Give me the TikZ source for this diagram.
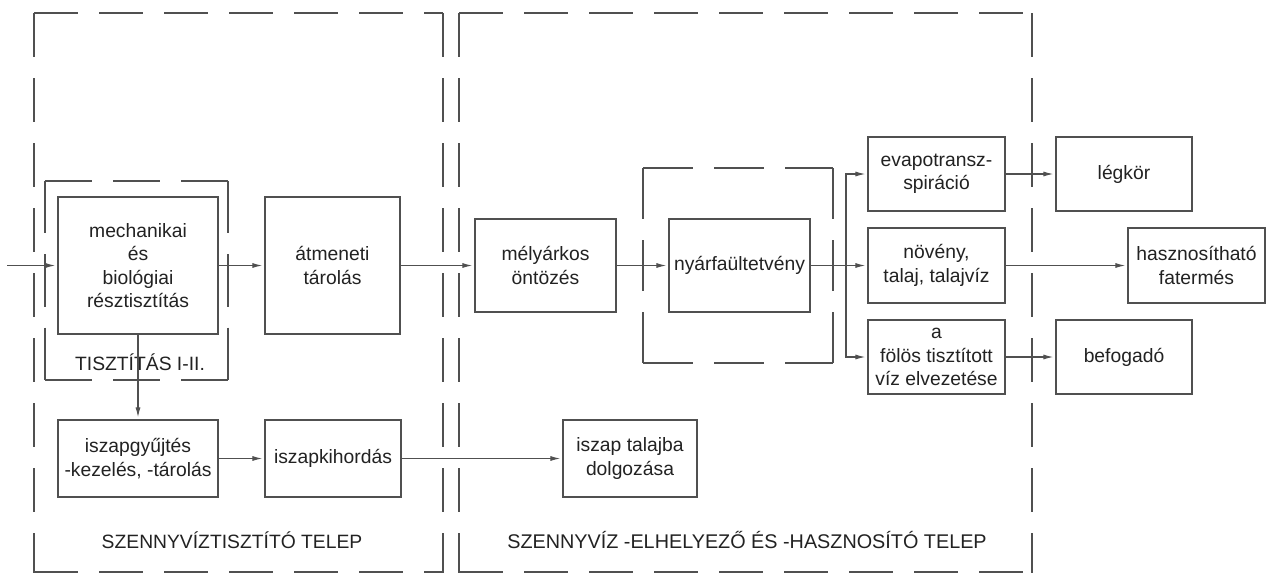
\documentclass[tikz,border=0pt]{standalone}
\usepackage{fontspec}
\setmainfont{Liberation Sans}
\usetikzlibrary{arrows.meta}
\definecolor{ln}{HTML}{505050}
\definecolor{tx}{HTML}{222222}
\begin{document}
\begin{tikzpicture}[x=1pt,y=-1pt,
  box/.style={draw=ln,line width=1.2pt,rectangle,inner sep=0pt,align=center,fill=white,
    text=tx,font=\fontsize{19.3}{23.5}\selectfont},
  lbl/.style={inner sep=0pt,text=tx,font=\fontsize{19.3}{23.5}\selectfont},
  frame/.style={draw=ln,line width=1.2pt,dash pattern=on 44pt off 21pt},
  fside/.style={draw=ln,line width=1.2pt,dash pattern=on #1 off 21pt},
  arr/.style={draw=ln,line width=1.1pt,shorten >=2pt,-{Latex[length=10pt,width=5pt]}}]
\useasboundingbox (0,0) rectangle (1266,573);
% frames
\draw[frame] (34,13) -- (443,13); \draw[frame] (34,13) -- (34,573);
\draw[frame] (443,13) -- (443,573); \draw[frame] (34,572) -- (443,572);
\draw[frame] (459,13) -- (1032,13); \draw[frame] (459,13) -- (459,573);
\draw[frame] (1032,13) -- (1032,573); \draw[frame] (459,572) -- (1032,572);
\draw[fside=47pt] (45,181) -- (228,181); \draw[fside=52.3pt] (45,181) -- (45,380);
\draw[fside=52.3pt] (228,181) -- (228,380); \draw[fside=47pt] (45,380) -- (228,380);
\draw[fside=50pt] (643,168) -- (833,168); \draw[fside=51pt] (643,168) -- (643,363);
\draw[fside=51pt] (833,168) -- (833,363); \draw[fside=50pt] (643,363) -- (833,363);
% boxes
\node[box,minimum width=160pt,minimum height=137pt] (mech) at (138,265.5) {mechanikai\\és\\biológiai\\résztisztítás};
\node[box,minimum width=135pt,minimum height=137pt] (atm) at (332.5,265.5) {átmeneti\\tárolás};
\node[box,minimum width=141pt,minimum height=93pt] (mely) at (545.5,265.5) {mélyárkos\\öntözés};
\node[box,minimum width=141pt,minimum height=93pt] (nyar) at (739.5,265.5) {nyárfaültetvény};
\node[box,minimum width=137pt,minimum height=74pt] (evapo) at (936.5,174) {evapotransz-\\spiráció};
\node[box,minimum width=137pt,minimum height=75pt] (noveny) at (936.5,265.5) {növény,\\talaj, talajvíz};
\node[box,minimum width=137pt,minimum height=74pt] (folos) at (936.5,357) {a\\fölös tisztított\\víz elvezetése};
\node[box,minimum width=136pt,minimum height=74pt] (legkor) at (1124,174) {légkör};
\node[box,minimum width=137pt,minimum height=75pt] (haszn) at (1196.5,265.5) {hasznosítható\\fatermés};
\node[box,minimum width=136pt,minimum height=74pt] (befog) at (1124,357) {befogadó};
\node[box,minimum width=160pt,minimum height=77pt] (iszgy) at (138,458.5) {iszapgyűjtés\\-kezelés, -tárolás};
\node[box,minimum width=136pt,minimum height=77pt] (iszki) at (333,458.5) {iszapkihordás};
\node[box,minimum width=134pt,minimum height=77pt] (iszta) at (630,458.5) {iszap talajba\\dolgozása};
% labels
\node[lbl] (l1) at (140,362) {TISZTÍTÁS I-II.};
\node[lbl] (l2) at (232,540) {SZENNYVÍZTISZTÍTÓ TELEP};
\node[lbl,font=\fontsize{19.8}{23.5}\selectfont] (l3) at (747,540) {SZENNYVÍZ -ELHELYEZŐ ÉS -HASZNOSÍTÓ TELEP};
% connectors
\coordinate (in) at (7,265.5);
\coordinate (split) at (846,265.5);
\draw[arr] (in) -- (mech.west);
\draw[arr] (mech.east) -- (atm.west);
\draw[arr] (atm.east) -- (mely.west);
\draw[arr] (mely.east) -- (nyar.west);
\draw[arr] (nyar.east) -- (noveny.west);
\draw[arr] (split) |- (evapo.west);
\draw[arr] (split) |- (folos.west);
\draw[arr] (evapo.east) -- (legkor.west);
\draw[arr] (noveny.east) -- (haszn.west);
\draw[arr] (folos.east) -- (befog.west);
\draw[arr] (mech.south) -- (iszgy.north);
\draw[arr] (iszgy.east) -- (iszki.west);
\draw[arr] (iszki.east) -- (iszta.west);
\end{tikzpicture}
\end{document}
